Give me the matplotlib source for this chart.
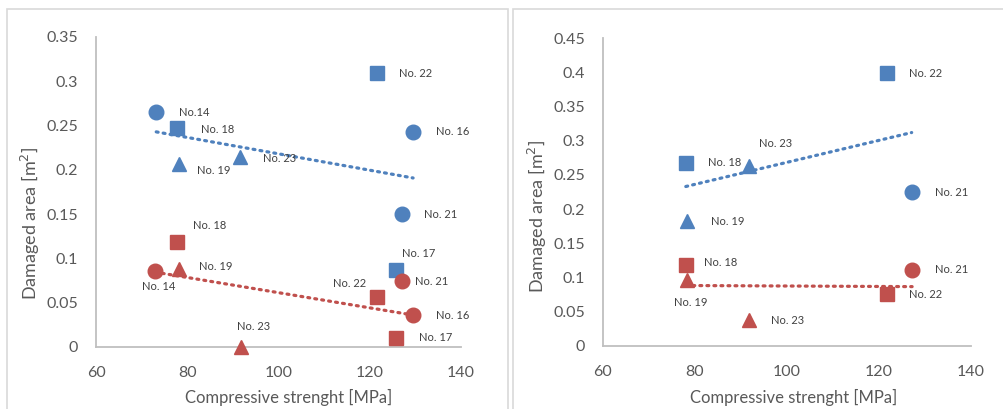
import numpy as np
import matplotlib
matplotlib.use("Agg")
import matplotlib.pyplot as plt
from matplotlib.patches import Rectangle

plt.rcParams['font.family'] = ['Lato', 'DejaVu Sans']

blue = '#4F81BD'
red = '#C0504D'
grey_txt = '#595959'
lab_txt = '#404040'

# ---- left chart data ----
l_blue_x = [73.2, 77.8, 78.3, 91.6, 121.6, 129.5, 127.0, 125.8]
l_blue_y = [0.265, 0.247, 0.207, 0.214, 0.309, 0.243, 0.150, 0.087]
l_blue_m = ['o', 's', '^', '^', 's', 'o', 'o', 's']
l_blue_lab = ['No.14', 'No. 18', 'No. 19', 'No. 23', 'No. 22', 'No. 16', 'No. 21', 'No. 17']

l_red_x = [73.0, 78.3, 77.8, 91.8, 121.6, 127.1, 129.5, 125.8]
l_red_y = [0.086, 0.088, 0.119, 0.0, 0.056, 0.074, 0.036, 0.0105]
l_red_m = ['o', '^', 's', '^', 's', 'o', 'o', 's']
l_red_lab = ['No. 14', 'No. 19', 'No. 18', 'No. 23', 'No. 22', 'No. 21', 'No. 16', 'No. 17']

# ---- right chart data ----
r_blue_x = [121.7, 78.0, 91.7, 127.1, 78.3]
r_blue_y = [0.399, 0.268, 0.263, 0.225, 0.182]
r_blue_m = ['s', 's', '^', 'o', '^']
r_blue_lab = ['No. 22', 'No. 18', 'No. 23', 'No. 21', 'No. 19']

r_red_x = [78.0, 78.3, 91.8, 127.2, 121.7]
r_red_y = [0.118, 0.096, 0.037, 0.111, 0.075]
r_red_m = ['s', '^', '^', 'o', 's']
r_red_lab = ['No. 18', 'No. 19', 'No. 23', 'No. 21', 'No. 22']

# label offsets in pixels (dx, dy), dy positive = up
l_blue_off = [(23, 0), (24, -1), (18, -7), (23, -1), (22, 0), (23, 0), (22, 0), (6, 16)]
l_red_off = [(-13, -16), (20, 3), (16, 16), (-4, 20), (-44, 14), (13, 0), (23, 0), (23, 0)]
r_blue_off = [(22, 0), (22, 0), (10, 23), (23, 0), (24, 0)]
r_red_off = [(18, 3), (-13, -22), (22, 0), (23, 0), (22, 0)]

fig = plt.figure(figsize=(10.04, 4.09), dpi=100)

# panel frames
fig.patches.append(Rectangle((7 / 1004, -0.1), 501 / 1004, 1.1 - 9 / 409,
                             transform=fig.transFigure, fill=False,
                             edgecolor='#D9D9D9', lw=1.2))
fig.patches.append(Rectangle((513 / 1004, -0.1), 500 / 1004, 1.1 - 9 / 409,
                             transform=fig.transFigure, fill=False,
                             edgecolor='#D9D9D9', lw=1.2))

ax1 = fig.add_axes([96 / 1004, 62 / 409, 365 / 1004, 310 / 409])
ax2 = fig.add_axes([603 / 1004, 63.3 / 409, 368 / 1004, 307.4 / 409])


def draw_series(ax, xs, ys, ms, labs, offs, color):
    for x, y, m, lab, off in zip(xs, ys, ms, labs, offs):
        size = 10.5 if m != 's' else 10
        ax.plot(x, y, marker=m, ms=size, color=color, ls='none', clip_on=False, zorder=3)
        ax.annotate(lab, (x, y), xytext=off, textcoords='offset pixels',
                    ha='left', va='center', fontsize=8, color=lab_txt, zorder=4)
    # linear trendline
    k, b = np.polyfit(xs, ys, 1)
    tx = np.array([min(xs), max(xs)])
    ax.plot(tx, k * tx + b, ls=(0, (0.6, 1.6)), lw=2.3, color=color,
            dash_capstyle='round', zorder=2)


def style_axes(ax, ymax, ystep):
    ax.set_xlim(60, 140)
    ax.set_ylim(0, ymax)
    ax.set_xticks(np.arange(60, 141, 20))
    ax.set_yticks(np.arange(0, ymax + 1e-9, ystep))
    ax.set_yticklabels([('%g' % v) for v in np.arange(0, ymax + 1e-9, ystep)])
    for s in ['top', 'right']:
        ax.spines[s].set_visible(False)
    for s in ['left', 'bottom']:
        ax.spines[s].set_color('#BFBFBF')
        ax.spines[s].set_linewidth(1.3)
    ax.tick_params(length=0, labelsize=11.5, colors=grey_txt)
    ax.tick_params(axis='y', pad=13)
    ax.tick_params(axis='x', pad=14)
    ax.set_xlabel('Compressive strenght [MPa]', fontsize=12, color=grey_txt)
    ax.set_ylabel('Damaged area [m$^2$]', fontsize=13, color=grey_txt)
    ax.patch.set_alpha(0)


draw_series(ax1, l_blue_x, l_blue_y, l_blue_m, l_blue_lab, l_blue_off, blue)
draw_series(ax1, l_red_x, l_red_y, l_red_m, l_red_lab, l_red_off, red)
draw_series(ax2, r_blue_x, r_blue_y, r_blue_m, r_blue_lab, r_blue_off, blue)
draw_series(ax2, r_red_x, r_red_y, r_red_m, r_red_lab, r_red_off, red)

style_axes(ax1, 0.35, 0.05)
style_axes(ax2, 0.45, 0.05)
ax1.yaxis.set_label_coords(-0.148, 0.40)
ax2.yaxis.set_label_coords(-0.147, 0.42)
ax1.xaxis.set_label_coords(0.527, -0.136)
ax2.xaxis.set_label_coords(0.519, -0.140)

fig.savefig('out.png', dpi=100)
